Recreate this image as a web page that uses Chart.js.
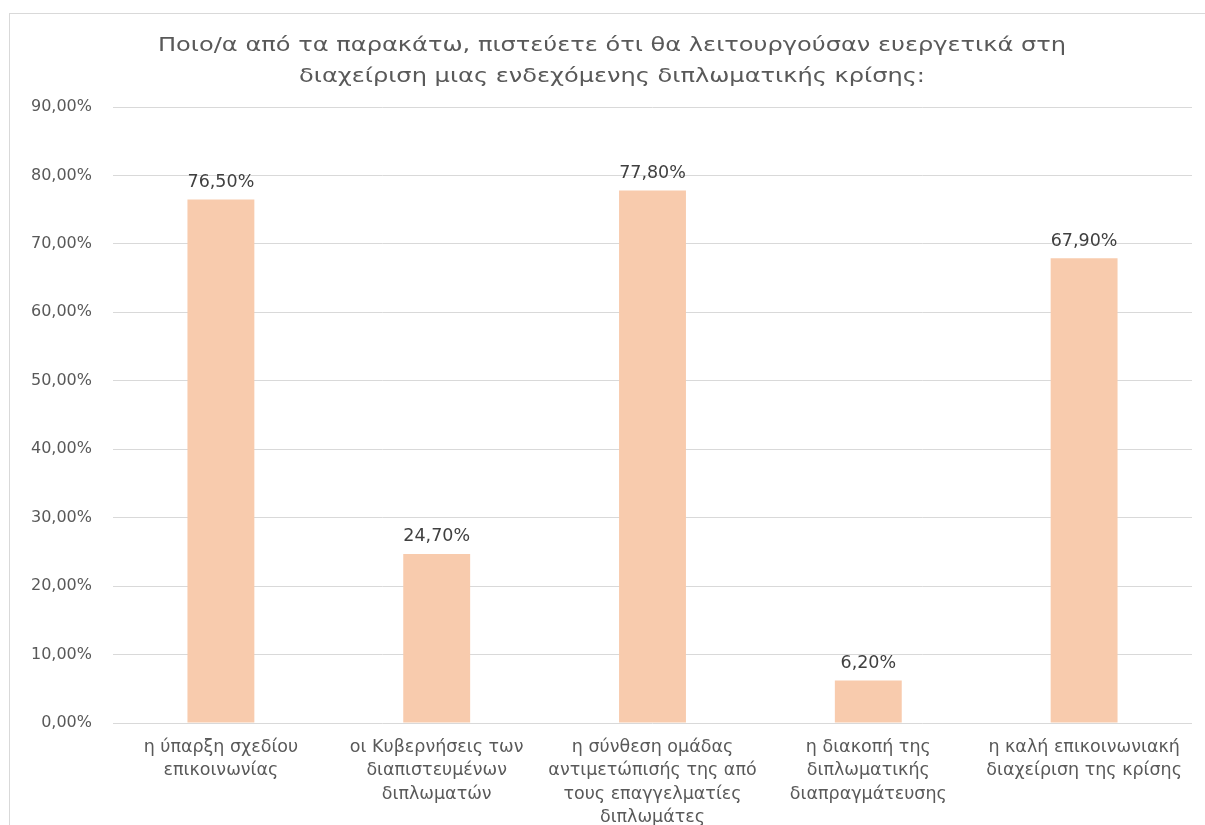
<!DOCTYPE html>
<html>
<head>
<meta charset="utf-8">
<script src="https://cdn.jsdelivr.net/npm/chart.js@4.4.1/dist/chart.umd.min.js"></script>
<style>
  html, body { margin: 0; padding: 0; background: #ffffff; overflow: hidden; }
  #frame { position: absolute; left: 9px; top: 13px; width: 1400px; height: 1000px; border-left: 1px solid #d9d9d9; border-top: 1px solid #d9d9d9; }
  #wrap { position: absolute; left: 0; top: 0; width: 1205px; height: 825px; }
</style>
</head>
<body>
<div id="frame"></div>
<div id="wrap"><canvas id="c" width="1205" height="825"></canvas></div>
<script>
const titleLines = [
  "Ποιο/α από τα παρακάτω, πιστεύετε ότι θα λειτουργούσαν ευεργετικά στη",
  "διαχείριση μιας ενδεχόμενης διπλωματικής κρίσης:"
];
const categories = [
  ["η ύπαρξη σχεδίου", "επικοινωνίας"],
  ["οι Κυβερνήσεις των", "διαπιστευμένων", "διπλωματών"],
  ["η σύνθεση ομάδας", "αντιμετώπισής της από", "τους επαγγελματίες", "διπλωμάτες"],
  ["η διακοπή της", "διπλωματικής", "διαπραγμάτευσης"],
  ["η καλή επικοινωνιακή", "διαχείριση της κρίσης"]
];
const values = [76.5, 24.7, 77.8, 6.2, 67.9];
const yMin = 0, yMax = 90, yStep = 10;

const FONT = "'DejaVu Sans', sans-serif";
const fmt = v => v.toFixed(2).replace('.', ',') + '%';

// title style
const TITLE_FONT_SIZE = 20;
const TITLE_LINE1_WIDTH = 908;
const TITLE_CENTER_X = 612;
const TITLE_LINE_Y = [46, 77];

const titlePlugin = {
  id: 'stretchedTitle',
  afterDraw(chart) {
    const ctx = chart.ctx;
    ctx.save();
    ctx.font = TITLE_FONT_SIZE + "px " + FONT;
    ctx.fillStyle = '#595959';
    ctx.textAlign = 'center';
    ctx.textBaseline = 'middle';
    const sx = TITLE_LINE1_WIDTH / ctx.measureText(titleLines[0]).width;
    titleLines.forEach((line, i) => {
      ctx.save();
      ctx.translate(TITLE_CENTER_X, TITLE_LINE_Y[i]);
      ctx.scale(sx, 1);
      ctx.fillText(line, 0, 0);
      ctx.restore();
    });
    ctx.restore();
  }
};

const dataLabels = {
  id: 'dataLabels',
  afterDatasetsDraw(chart) {
    const ctx = chart.ctx;
    const meta = chart.getDatasetMeta(0);
    ctx.save();
    ctx.font = "17.5px " + FONT;
    ctx.fillStyle = '#404040';
    ctx.textAlign = 'center';
    ctx.textBaseline = 'middle';
    meta.data.forEach((bar, i) => {
      ctx.fillText(fmt(values[i]), bar.x, bar.y - 17);
    });
    ctx.restore();
  }
};

new Chart(document.getElementById('c'), {
  type: 'bar',
  data: {
    labels: categories,
    datasets: [{
      data: values,
      backgroundColor: '#F8CBAD',
      borderWidth: 0,
      categoryPercentage: 1.0,
      barPercentage: 0.31
    }]
  },
  options: {
    responsive: false,
    animation: false,
    devicePixelRatio: 1,
    layout: { padding: { top: 107, right: 13, bottom: 0, left: 0 } },
    plugins: {
      legend: { display: false },
      tooltip: { enabled: false },
      title: { display: false }
    },
    scales: {
      x: {
        grid: { display: false },
        border: { display: false },
        ticks: {
          color: '#595959',
          font: { family: FONT, size: 17.5, lineHeight: 1.326 },
          padding: 5,
          maxRotation: 0,
          minRotation: 0,
          autoSkip: false
        },
        afterFit(scale) { scale.height = 102; }
      },
      y: {
        min: yMin,
        max: yMax,
        grid: { color: '#d9d9d9', lineWidth: 1, drawTicks: false },
        border: { display: false },
        ticks: {
          stepSize: yStep,
          color: '#595959',
          font: { family: FONT, size: 16 },
          padding: 21,
          callback: v => fmt(v)
        },
        afterFit(scale) { scale.width = 113; }
      }
    }
  },
  plugins: [dataLabels, titlePlugin]
});
</script>
</body>
</html>
